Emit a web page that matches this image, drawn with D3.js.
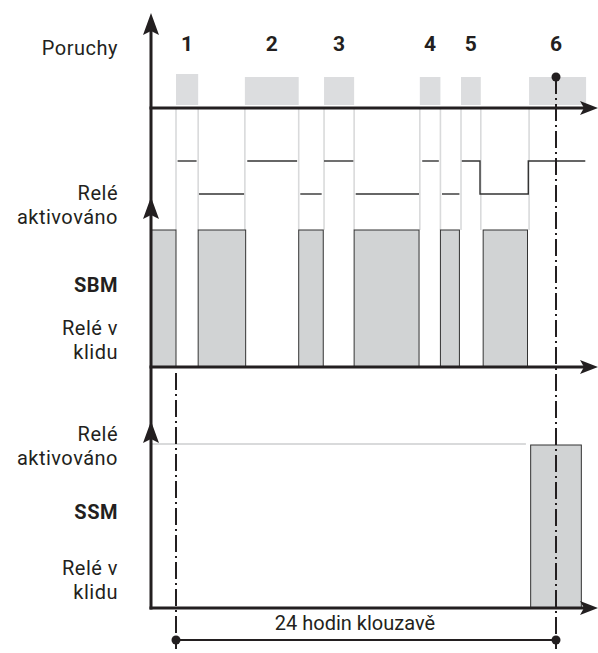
<!DOCTYPE html>
<html>
<head>
<meta charset="utf-8">
<script src="https://cdn.jsdelivr.net/npm/d3@7"></script>
<style>
  body { margin: 0; background: #fff; }
  text { font-family: Roboto, "Open Sans", sans-serif; fill: #231f20; }
</style>
</head>
<body>
<div id="chart"></div>
<script>
// time in hours, 0 = start of fault 1, 24 = fault 6 marker
const faults = [
    { label: "1", start: 0, end: 1.4 },
    { label: "2", start: 4.35, end: 7.75 },
    { label: "3", start: 9.35, end: 11.25 },
    { label: "4", start: 15.4, end: 16.7 },
    { label: "5", start: 18.0, end: 19.25 },
    { label: "6", start: 22.3, end: 25.9, mark: 24 }
];

// SBM relay activated intervals
const sbmOn = [
    [-1.6, 0], [1.4, 4.4], [7.75, 9.3], [11.25, 15.35], [16.7, 17.9], [19.4, 22.2]
];

// relay state traces between fault axis and SBM (1 = upper, 0 = lower)
const relayRuns = [
    [[0.1, 1], [1.3, 1]],
    [[1.45, 0], [4.3, 0]],
    [[4.5, 1], [7.65, 1]],
    [[7.85, 0], [9.2, 0]],
    [[9.35, 1], [11.2, 1]],
    [[11.35, 0], [15.35, 0]],
    [[15.55, 1], [16.6, 1]],
    [[16.8, 0], [17.9, 0]],
    [[18.05, 1], [19.2, 0], [22.25, 1], [25.85, 1]]
];

// SSM relay activated interval
const ssmOn = [[22.4, 25.6]];
const ssmIdleLevel = [[-1.6, 22.1]];

const window24 = [0, 24];

const width = 598, height = 653;

const x = d3.scaleLinear().domain([0, 24]).range([176, 556]);
const yRelay = d3.scaleLinear().domain([0, 1]).range([194, 161]);
const ySbm = d3.scaleLinear().domain([0, 1]).range([367, 230]);
const ySsm = d3.scaleLinear().domain([0, 1]).range([608, 445]);

const axisX = 151, axisEnd = 598;
const ink = "#231f20";

const svg = d3.select("#chart")
    .append("svg")
    .attr("width", width)
    .attr("height", height);

// faults
svg.selectAll("rect.fault")
    .data(faults)
    .enter()
    .append("rect")
    .attr("class", "fault")
    .attr("x", d => x(d.start))
    .attr("y", (d, i) => i == 0 ? 74 : 77)
    .attr("width", d => x(d.end) - x(d.start))
    .attr("height", (d, i) => i == 0 ? 31 : 28)
    .attr("fill", "#dcdddf");

svg.selectAll("text.flabel")
    .data(faults)
    .enter()
    .append("text")
    .attr("class", "flabel")
    .attr("x", d => x(d.mark != null ? d.mark : (d.start + d.end) / 2))
    .attr("y", 51)
    .attr("text-anchor", "middle")
    .style("font-size", "21px")
    .style("font-weight", "bold")
    .text(d => d.label);

// grey edge lines of faults (except the open end of the last one)
const edges = [];
faults.forEach((f, i) => {
    edges.push(f.start);
    if (i < faults.length - 1) edges.push(f.end);
});
svg.selectAll("line.edge")
    .data(edges)
    .enter()
    .append("line")
    .attr("x1", d => x(d)).attr("x2", d => x(d))
    .attr("y1", 109).attr("y2", 230)
    .attr("stroke", "#d9dadb")
    .attr("stroke-width", 1.6);

// relay traces
const relayLine = d3.line()
    .x(d => x(d[0]))
    .y(d => yRelay(d[1]))
    .curve(d3.curveStepAfter);

svg.selectAll("path.relay")
    .data(relayRuns)
    .enter()
    .append("path")
    .attr("d", relayLine)
    .attr("fill", "none")
    .attr("stroke", "#333")
    .attr("stroke-width", 1.4);

// SBM
svg.selectAll("rect.sbm")
    .data(sbmOn)
    .enter()
    .append("rect")
    .attr("x", d => Math.max(x(d[0]), axisX))
    .attr("y", ySbm(1))
    .attr("width", d => x(d[1]) - Math.max(x(d[0]), axisX))
    .attr("height", ySbm(0) - ySbm(1))
    .attr("fill", "#d1d3d4")
    .attr("stroke", "#333")
    .attr("stroke-width", 1);

// SSM
svg.selectAll("line.ssmlevel")
    .data(ssmIdleLevel)
    .enter()
    .append("line")
    .attr("x1", d => Math.max(x(d[0]), axisX)).attr("x2", d => x(d[1]))
    .attr("y1", ySsm(1) - 1).attr("y2", ySsm(1) - 1)
    .attr("stroke", "#d9dadb")
    .attr("stroke-width", 2);

svg.selectAll("rect.ssm")
    .data(ssmOn)
    .enter()
    .append("rect")
    .attr("x", d => x(d[0]))
    .attr("y", ySsm(1))
    .attr("width", d => x(d[1]) - x(d[0]))
    .attr("height", ySsm(0) - ySsm(1))
    .attr("fill", "#d1d3d4")
    .attr("stroke", "#333")
    .attr("stroke-width", 1);

// dash-dot markers
const dashDot = [
    { t: window24[0], y1: 373 },
    { t: window24[1], y1: 77 }
];
svg.selectAll("line.dd")
    .data(dashDot)
    .enter()
    .append("line")
    .attr("x1", d => x(d.t)).attr("x2", d => x(d.t))
    .attr("y1", d => d.y1).attr("y2", 649)
    .attr("stroke", ink)
    .attr("stroke-width", 2)
    .attr("stroke-dasharray", "17,4,2,4");

svg.append("circle")
    .attr("cx", x(window24[1])).attr("cy", 77).attr("r", 4.5)
    .attr("fill", ink);

// axes
svg.append("line")
    .attr("x1", axisX).attr("x2", axisX)
    .attr("y1", 30).attr("y2", ySsm(0) + 1.5)
    .attr("stroke", ink).attr("stroke-width", 3);

[108, ySbm(0), ySsm(0)].forEach(y => {
    svg.append("line")
        .attr("x1", axisX - 1.5).attr("x2", axisEnd - 12)
        .attr("y1", y).attr("y2", y)
        .attr("stroke", ink).attr("stroke-width", 3);
    svg.append("path")
        .attr("d", `M${axisEnd},${y} L${axisEnd - 18},${y - 7} L${axisEnd - 14},${y} L${axisEnd - 18},${y + 7} Z`)
        .attr("fill", ink);
});

[13, 197, 421].forEach(y => {
    svg.append("path")
        .attr("d", `M${axisX},${y} L${axisX + 8},${y + 22} L${axisX},${y + 18} L${axisX - 8},${y + 22} Z`)
        .attr("fill", ink);
});

// 24h bracket
svg.append("line")
    .attr("x1", x(window24[0])).attr("x2", x(window24[1]))
    .attr("y1", 640).attr("y2", 640)
    .attr("stroke", ink).attr("stroke-width", 2);
svg.selectAll("circle.end")
    .data(window24)
    .enter()
    .append("circle")
    .attr("cx", d => x(d)).attr("cy", 640).attr("r", 4.5)
    .attr("fill", ink);
svg.append("text")
    .attr("x", (x(window24[0]) + x(window24[1])) / 2 - 11)
    .attr("y", 630)
    .attr("text-anchor", "middle")
    .style("font-size", "20px")
    .text("24 hodin klouzavě");

// side labels
const sideLabels = [
    { text: "Poruchy", y: 55 },
    { text: "Relé", y: 200 },
    { text: "aktivováno", y: 224 },
    { text: "SBM", y: 292, bold: true },
    { text: "Relé v", y: 335 },
    { text: "klidu", y: 359 },
    { text: "Relé", y: 441 },
    { text: "aktivováno", y: 465 },
    { text: "SSM", y: 519, bold: true },
    { text: "Relé v", y: 575 },
    { text: "klidu", y: 599 }
];
svg.selectAll("text.side")
    .data(sideLabels)
    .enter()
    .append("text")
    .attr("x", 118)
    .attr("y", d => d.y)
    .attr("text-anchor", "end")
    .style("font-size", "20px")
    .style("letter-spacing", "0.5px")
    .style("font-weight", d => d.bold ? "bold" : "normal")
    .text(d => d.text);
</script>
</body>
</html>
